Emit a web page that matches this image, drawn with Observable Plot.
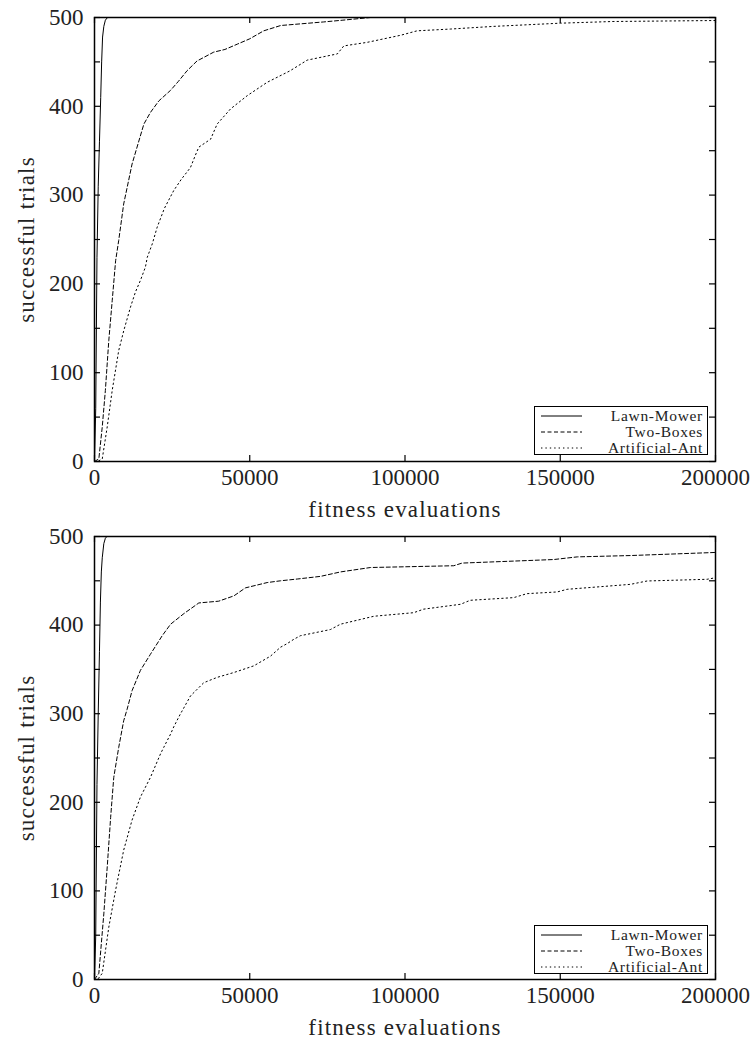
<!DOCTYPE html>
<html><head><meta charset="utf-8">
<script src="https://cdn.jsdelivr.net/npm/d3@7"></script>
<script src="https://cdn.jsdelivr.net/npm/@observablehq/plot@0.6"></script>
<style>
body{margin:0;background:#fff;}
#wrap{position:relative;width:756px;height:1043px;overflow:hidden;}
#wrap svg{display:block;}
#wrap svg text{font-family:'Liberation Serif',serif !important;}
.legend{position:absolute;box-sizing:border-box;width:174px;height:49px;border:1.3px solid #000;background:#fff;font-family:'Liberation Serif',serif;font-size:15.5px;line-height:15.5px;color:#222;padding-top:0.5px;}
.legend .row{display:flex;align-items:center;justify-content:space-between;height:16px;line-height:15.5px;padding:0 4px 0 6px;letter-spacing:0.7px;}
.legend svg{display:block;}
</style>
</head><body><div id="wrap"></div>
<script>
// ---- data (fitness evaluations, successful trials) ----
const xTicks = [0, 50000, 100000, 150000, 200000];
const yTicks = [0, 50, 100, 150, 200, 250, 300, 350, 400, 450, 500];
const yLabels = [0, 100, 200, 300, 400, 500];
const seriesNames = ["Lawn-Mower", "Two-Boxes", "Artificial-Ant"];

const topLawnMower = [[0,0],[400,60],[800,230],[1200,310],[1600,360],[2000,410],[2300,450],[2600,478],[3000,490],[3500,497],[4200,500],[200000,500]];
const topTwoBoxes = [[0,0],[1400,3],[2500,39],[3500,80],[4600,136],[5700,181],[6800,226],[7800,249],[9400,290],[12100,335],[15900,380],[18000,393],[20700,406],[24500,418],[27000,428],[29800,440],[33000,451],[38400,461],[42000,464],[46000,470],[50000,476],[54500,485],[60000,491],[73800,495],[80000,497],[88900,500],[200000,500]];
const topArtificialAnt = [[0,0],[1000,0],[2500,3],[4100,39],[5700,80],[7800,125],[9400,147],[11600,174],[13200,191],[14800,204],[16400,219],[17000,230],[18600,245],[20200,264],[22500,285],[25500,305],[28000,318],[30900,331],[32500,345],[33600,354],[37400,363],[39500,380],[43800,397],[49200,412],[55600,427],[63000,440],[68500,452],[78200,459],[80300,468],[87800,472],[98600,480],[103900,485],[114700,487],[128600,490],[150000,493.6],[167000,495.5],[200000,496.6]];

const botLawnMower = [[0,0],[400,50],[800,220],[1200,300],[1600,370],[1900,426],[2200,460],[2500,476],[3000,492],[3500,498],[4000,500],[200000,500]];
const botTwoBoxes = [[0,0],[1400,7],[3000,74],[4100,127],[5200,183],[6200,228],[7800,262],[9400,292],[10500,305],[12100,326],[14800,349],[18000,367],[21800,388],[24500,401],[28800,413],[33600,425],[40000,427],[44900,433],[48600,442],[55600,448],[59900,450],[65300,452],[72800,455],[79200,460],[88900,465],[115700,467],[118400,470],[147900,474],[155500,477],[172600,478.5],[200000,482]];
const botArtificialAnt = [[0,0],[1000,0],[2500,7],[4600,59],[6800,101],[9400,146],[12100,180],[14800,206],[18000,228],[21300,255],[22300,262],[24500,277],[25500,285],[27700,300],[28200,303],[30900,320],[35200,335],[39500,341],[44900,346.5],[51300,354],[56700,365],[59900,375],[62000,379],[64200,384],[66300,388],[76000,395],[79200,401],[90000,410],[102800,414],[106000,418],[117900,423.5],[121000,428],[135000,431],[139300,435.5],[149000,437.4],[152200,440.4],[172600,446],[178000,449.8],[197300,451.7],[200000,453.5]];

const dashStyles = [null, "4,2.5", "1.4,3"];
const FONT = "'Liberation Serif', serif";

function chart(seriesList, height, marginTop, marginBottom) {
  const mL = 94, mR = 41, W = 756;
  const plotH = height - marginTop - marginBottom;
  const plotW = W - mL - mR;
  const lines = seriesList.map((s, i) => Plot.line(s, {
    x: d => d[0], y: d => d[1], stroke: "#000", strokeWidth: 1,
    strokeDasharray: dashStyles[i] || undefined
  }));
  const svg = Plot.plot({
    width: W, height, marginLeft: mL, marginRight: mR, marginTop, marginBottom,
    x: {domain: [0, 200000]},
    y: {domain: [0, 500]},
    style: {fontFamily: FONT, fontSize: "23px", color: "#222", background: "white", overflow: "visible"},
    marks: [
      ...lines,
      Plot.tickX(xTicks, {x: d => d, insetTop: plotH - 6, stroke: "#000", strokeWidth: 1.2}),
      Plot.tickX(xTicks, {x: d => d, insetBottom: plotH - 6, stroke: "#000", strokeWidth: 1.2}),
      Plot.tickY(yTicks, {y: d => d, insetRight: plotW - 6, stroke: "#000", strokeWidth: 1.2}),
      Plot.tickY(yTicks, {y: d => d, insetLeft: plotW - 6, stroke: "#000", strokeWidth: 1.2}),
      Plot.frame({stroke: "#000", strokeWidth: 1.5}),
      Plot.axisX({ticks: xTicks, tickSize: 0, tickPadding: 7, tickFormat: d3.format("d"), fontFamily: FONT,
        label: "fitness evaluations", labelAnchor: "center", labelArrow: "none", labelOffset: 55}),
      Plot.axisY({ticks: yLabels, tickSize: 0, tickPadding: 11, tickFormat: d3.format("d"), fontFamily: FONT,
        label: "successful trials", labelAnchor: "center", labelArrow: "none", labelOffset: 77})
    ]
  });
  svg.querySelectorAll("text").forEach(t => {
    t.setAttribute("font-family", FONT);
    if (t.textContent === "fitness evaluations" || t.textContent === "successful trials") t.style.letterSpacing = "1.2px";
  });
  return svg;
}

function legend(left, top) {
  const div = document.createElement("div");
  div.className = "legend";
  div.style.left = left + "px";
  div.style.top = top + "px";
  seriesNames.forEach((name, i) => {
    const row = document.createElement("div");
    row.className = "row";
    const dash = dashStyles[i] ? ` stroke-dasharray="${dashStyles[i]}"` : "";
    row.innerHTML = `<svg width="41" height="10"><line x1="0" x2="41" y1="5" y2="5" stroke="#000" stroke-width="1"${dash}/></svg><span>${name}</span>`;
    div.appendChild(row);
  });
  return div;
}

const wrap = document.getElementById("wrap");
wrap.appendChild(chart([topLawnMower, topTwoBoxes, topArtificialAnt], 526, 17, 65));
wrap.appendChild(chart([botLawnMower, botTwoBoxes, botArtificialAnt], 517, 10, 64));
wrap.appendChild(legend(534, 406));
wrap.appendChild(legend(534, 925));
</script>
</body></html>
